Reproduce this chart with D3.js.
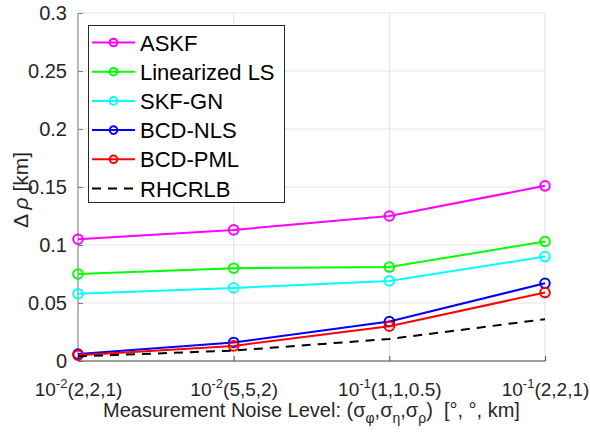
<!DOCTYPE html>
<html><head><meta charset="utf-8">
<script src="https://cdn.jsdelivr.net/npm/d3@7"></script>
<style>
html,body{margin:0;padding:0;background:#fff;}
text{font-family:"Liberation Sans",Arial,sans-serif;}
</style></head>
<body>
<svg id="chart" width="590" height="432"></svg>
<script>
// ---- data ----
const categories = ["c1","c2","c3","c4"];
const tickExp = ["-2","-2","-1","-1"];
const tickTuple = ["(2,2,1)","(5,5,2)","(1,1,0.5)","(2,2,1)"];
const yTicks = [0,0.05,0.1,0.15,0.2,0.25,0.3];
const seriesNames = ["ASKF","Linearized LS","SKF-GN","BCD-NLS","BCD-PML","RHCRLB"];
const seriesColors = ["#ff00ff","#00ff00","#00ffff","#0000ff","#ff0000","#000000"];
const askf = [0.105,0.113,0.125,0.151];
const linLS = [0.075,0.080,0.081,0.103];
const skfGN = [0.058,0.063,0.069,0.090];
const bcdNLS = [0.006,0.016,0.034,0.067];
const bcdPML = [0.005,0.013,0.030,0.059];
const rhcrlb = [0.004,0.009,0.019,0.036];
const seriesValues = [askf,linLS,skfGN,bcdNLS,bcdPML,rhcrlb];
const seriesDashed = [false,false,false,false,false,true];

// ---- layout ----
const L=78,R=545,T=13,B=361;
const svg=d3.select("#chart");
const x=d3.scalePoint().domain(categories).range([L,R]);
const y=d3.scaleLinear().domain([0,0.3]).range([B,T]);

// grid
const grid=svg.append("g");
grid.selectAll("line.gy").data(yTicks).join("line")
  .attr("x1",L).attr("x2",R).attr("y1",d=>y(d)).attr("y2",d=>y(d))
  .attr("stroke","#e3e3e3").attr("stroke-width",1);
grid.selectAll("line.gx").data(categories).join("line")
  .attr("x1",d=>x(d)).attr("x2",d=>x(d)).attr("y1",T).attr("y2",B)
  .attr("stroke","#e3e3e3").attr("stroke-width",1);

// axes
const yAxis=d3.axisLeft(y).tickValues(yTicks).tickSize(-5).tickPadding(11)
  .tickFormat(d=>String(+d.toFixed(2)));
const gy=svg.append("g").attr("transform",`translate(${L},0)`).call(yAxis);
gy.select(".domain").attr("stroke","#808080").attr("stroke-width",1).attr("d",`M0,${B}V${T}`);
gy.selectAll(".tick line").attr("stroke","#808080");
gy.selectAll(".tick text").attr("fill","#262626").style("font-size","20px")
  .style("font-family","'Liberation Sans',Arial,sans-serif");

const xAxis=d3.axisBottom(x).tickSize(-5).tickPadding(10).tickFormat(()=> "");
const gx=svg.append("g").attr("transform",`translate(0,${B})`).call(xAxis);
gx.select(".domain").attr("stroke","#4d4d4d").attr("stroke-width",1).attr("d",`M${L},0H${R}`);
gx.selectAll(".tick line").attr("stroke","#4d4d4d");
gx.selectAll(".tick text").each(function(d,i){
  const t=d3.select(this).attr("fill","#262626").style("font-size","19px")
    .style("font-family","'Liberation Sans',Arial,sans-serif").attr("y",35).attr("dy",null);
  t.append("tspan").text("10");
  t.append("tspan").text(tickExp[i]).style("font-size","13px").attr("dy",-8);
  t.append("tspan").text(tickTuple[i]).attr("dy",8);
});

// series
const line=d3.line().x((d,i)=>x(categories[i])).y(d=>y(d));
seriesValues.forEach((vals,k)=>{
  const g=svg.append("g");
  g.append("path").datum(vals).attr("d",line).attr("fill","none")
    .attr("stroke",seriesColors[k]).attr("stroke-width",2)
    .attr("stroke-dasharray",seriesDashed[k]?"9,7":null);
  if(!seriesDashed[k]){
    g.selectAll("circle").data(vals).join("circle")
      .attr("cx",(d,i)=>x(categories[i])).attr("cy",d=>y(d)).attr("r",4.8)
      .attr("fill","none").attr("stroke",seriesColors[k]).attr("stroke-width",2);
  }
});

// legend
const lg=svg.append("g");
lg.append("rect").attr("x",88.5).attr("y",25.5).attr("width",196).attr("height",177)
  .attr("fill","#fff").attr("stroke","#262626").attr("stroke-width",1);
seriesNames.forEach((name,k)=>{
  const cy=42.5+k*29.2;
  lg.append("line").attr("x1",92).attr("x2",135).attr("y1",cy).attr("y2",cy)
    .attr("stroke",seriesColors[k]).attr("stroke-width",2)
    .attr("stroke-dasharray",seriesDashed[k]?"9,7":null);
  if(!seriesDashed[k]){
    lg.append("circle").attr("cx",113.5).attr("cy",cy).attr("r",3.8)
      .attr("fill","none").attr("stroke",seriesColors[k]).attr("stroke-width",2);
  }
  lg.append("text").attr("x",140).attr("y",cy+8).text(name)
    .attr("fill","#000").style("font-size","22px");
});

// x label
const xl=svg.append("text").attr("x",(L+R)/2).attr("y",417).attr("text-anchor","middle")
  .attr("fill","#262626").style("font-size","20px");
xl.append("tspan").text("Measurement Noise Level: (σ");
xl.append("tspan").text("φ").style("font-size","14px").attr("dy",6);
xl.append("tspan").text(",σ").attr("dy",-6);
xl.append("tspan").text("η").style("font-size","14px").attr("dy",6);
xl.append("tspan").text(",σ").attr("dy",-6);
xl.append("tspan").text("ρ").style("font-size","14px").attr("dy",6);
xl.append("tspan").text(")  [°, °, km]").attr("dy",-6).attr("xml:space","preserve");

// y label
const ylab=svg.append("text").attr("transform","translate(28,190) rotate(-90)")
  .attr("text-anchor","middle").attr("fill","#262626").style("font-size","21px");
ylab.append("tspan").text("Δ ");
ylab.append("tspan").text("ρ").style("font-style","italic");
ylab.append("tspan").text(" [km]");
</script>
</body></html>
